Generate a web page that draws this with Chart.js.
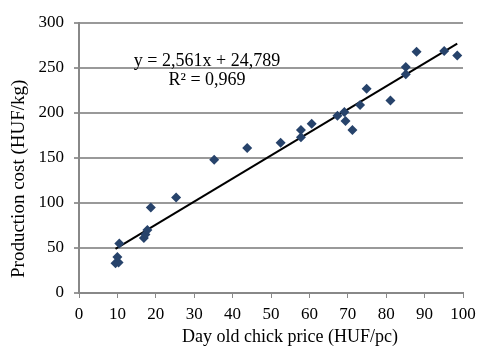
<!DOCTYPE html>
<html>
<head>
<meta charset="utf-8">
<script src="https://cdn.jsdelivr.net/npm/chart.js@4/dist/chart.umd.min.js"></script>
<style>
  body { margin: 0; background: #fff; }
</style>
</head>
<body>
<canvas id="myChart" width="479" height="348"></canvas>
<script>
// day old chick price (HUF/pc)
const chickPrice = [9.5, 10.3, 10, 10.5, 16.9, 17.3, 17.8, 18.7, 25.3, 35.2, 43.8, 52.5, 57.8, 57.8, 60.6, 67.3, 69.1, 69.4, 71.2, 73.2, 74.9, 81.1, 85.1, 85.1, 87.9, 95.1, 98.5];
// production cost (HUF/kg)
const prodCost = [33, 34, 40, 55, 61, 65, 70, 95, 106, 148, 161, 167, 173, 181, 188, 197, 201, 191, 181, 209, 227, 214, 243, 251, 268, 269, 264];
// trendline y = 2,561x + 24,789
const slope = 2.561;
const intercept = 24.789;
const trendX = [9.5, 98.5];

const xTitle = 'Day old chick price (HUF/pc)';
const yTitle = 'Production cost (HUF/kg)';
const eqLines = ['y = 2,561x + 24,789', 'R² = 0,969'];

const points = chickPrice.map((x, i) => ({ x: x, y: prodCost[i] }));
const trend = trendX.map(x => ({ x: x, y: slope * x + intercept }));

const serif = '"Liberation Serif", "Times New Roman", serif';
const tickFont = { family: serif, size: 17 };

// axis titles + equation label, placed like in the excel original
const textLabels = {
  id: 'textLabels',
  afterDraw(chart) {
    const ctx = chart.ctx;
    ctx.save();
    ctx.fillStyle = '#000';
    ctx.textBaseline = 'alphabetic';

    ctx.font = '18px ' + serif;
    ctx.textAlign = 'center';
    ctx.fillText(eqLines[0], 207, 66);
    ctx.fillText(eqLines[1], 207, 85);

    ctx.textAlign = 'left';
    ctx.fillText(xTitle, 182, 342);

    ctx.font = '19px ' + serif;
    ctx.translate(24, 278);
    ctx.rotate(-Math.PI / 2);
    ctx.fillText(yTitle, 0, 0);
    ctx.restore();
  }
};

const config = {
  type: 'scatter',
  data: {
    datasets: [{
      label: 'cost',
      data: points,
      pointStyle: 'rectRot',
      pointRadius: 5,
      pointHoverRadius: 5,
      backgroundColor: '#27436B',
      borderColor: '#27436B',
      borderWidth: 0,
      order: 1
    }, {
      type: 'line',
      label: 'trend',
      data: trend,
      borderColor: '#000',
      borderWidth: 2,
      pointRadius: 0,
      fill: false,
      order: 2
    }]
  },
  options: {
    responsive: false,
    animation: false,
    layout: { padding: { top: 23, right: 16, left: 0, bottom: 0 } },
    plugins: {
      legend: { display: false },
      tooltip: { enabled: false }
    },
    scales: {
      x: {
        type: 'linear',
        min: 0,
        max: 100,
        ticks: { stepSize: 10, color: '#000', font: tickFont, padding: 6 },
        grid: { drawOnChartArea: false, color: '#888', tickLength: 5 },
        border: { color: '#888', width: 2 },
        afterFit(scale) {
          scale.height = 55;
          scale.paddingRight = 0;
        }
      },
      y: {
        min: 0,
        max: 300,
        ticks: { stepSize: 50, color: '#000', font: tickFont, padding: 10 },
        grid: { color: '#999', lineWidth: 2, tickLength: 5 },
        border: { color: '#888', width: 2 },
        afterFit(scale) { scale.width = 79; }
      }
    }
  },
  plugins: [textLabels]
};

const myChart = new Chart(document.getElementById('myChart'), config);
</script>
</body>
</html>
